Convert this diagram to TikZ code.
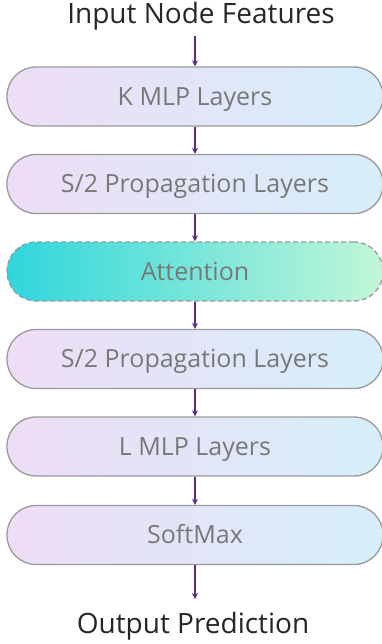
\documentclass[tikz,border=0pt]{standalone}
\usepackage{fontspec}
\usetikzlibrary{arrows.meta}
\setmainfont{Open Sans}
\definecolor{boxL}{HTML}{EEDDF5}
\definecolor{boxR}{HTML}{D6EEFA}
\definecolor{attL}{HTML}{2FD6DC}
\definecolor{attR}{HTML}{C2F6D8}
\definecolor{edge}{HTML}{9A9A9A}
\definecolor{txt}{HTML}{787878}
\definecolor{arr}{HTML}{5A2A86}
\begin{document}
\begin{tikzpicture}[x=1pt,y=-1pt,
  layer/.style={draw=edge,line width=1.3pt,rounded corners=29pt,minimum width=376pt,minimum height=59pt,
     left color=boxL,right color=boxR,text=txt,font=\fontsize{25}{28}\selectfont,inner sep=0pt,
     text height=17.5pt,text depth=0pt},
  attn/.style={layer,dash pattern=on 5pt off 3pt,left color=attL,right color=attR},
  lbl/.style={font=\fontsize{28}{32}\selectfont,text=black!85,inner sep=0pt,text height=20pt,text depth=0pt},
  flow/.style={draw=arr,line width=1.2pt,-{Stealth[length=6pt,width=6pt]}}]
\useasboundingbox (0,0) rectangle (381,644);
\node[lbl,anchor=south] (in) at (201,24) {Input Node Features};
\node[layer] (k) at (195,96.5) {K MLP Layers};
\node[layer] (s1) at (195,184) {S/2 Propagation Layers};
\node[attn] (a) at (195,271.5) {Attention};
\node[layer] (s2) at (195,359) {S/2 Propagation Layers};
\node[layer] (l) at (195,446.5) {L MLP Layers};
\node[layer] (sm) at (195,535) {SoftMax};
\node[lbl,anchor=south] (out) at (193,634) {Output Prediction};
\coordinate (i0) at (195,36);
\coordinate (o1) at (195,599);
\draw[flow] (i0) -- (k.north);
\draw[flow] (k) -- (s1);
\draw[flow] (s1) -- (a);
\draw[flow] (a) -- (s2);
\draw[flow] (s2) -- (l);
\draw[flow] (l) -- (sm);
\draw[flow] (sm.south) -- (o1);
\end{tikzpicture}
\end{document}
